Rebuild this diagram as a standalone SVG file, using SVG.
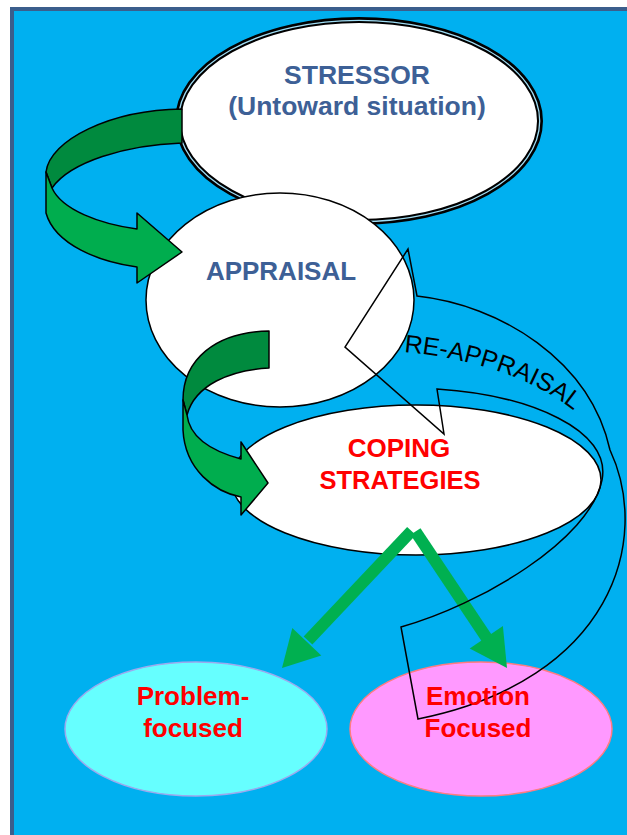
<svg xmlns="http://www.w3.org/2000/svg" width="627" height="835" viewBox="0 0 627 835">
  <style>
    .lbl { font-family: "Liberation Sans", Arial, sans-serif; font-weight: bold; text-anchor: middle; }
    .navy { fill: #3D6096; }
    .red { fill: #FF0000; }
    .node { fill: #FFFFFF; stroke: #000000; stroke-width: 1.5; }
    .dark { fill: #008A3E; stroke: #000000; stroke-width: 1.5; stroke-linejoin: round; }
    .light { fill: #00AD4E; stroke: #000000; stroke-width: 1.5; stroke-linejoin: round; }
    .shaft { stroke: #00B050; stroke-width: 12; stroke-linecap: butt; fill: none; }
    .head { fill: #00B050; }
  </style>
  <defs>
    <path id="reappraisal-baseline" d="M404,352 C455,356 545,375 592,428"/>
  </defs>

  <!-- frame and background -->
  <rect x="0" y="0" width="627" height="835" fill="#FFFFFF"/>
  <rect x="12" y="9" width="617" height="830" fill="#00B0F0" stroke="#3B5E8C" stroke-width="4"/>

  <g id="stressor">
    <ellipse cx="359" cy="121" rx="181" ry="101" fill="#FFFFFF" stroke="#000000" stroke-width="6"/>
    <ellipse cx="359" cy="121" rx="180.7" ry="100.7" fill="none" stroke="#9FDDF5" stroke-width="1.3"/>
  </g>

  <g id="appraisal">
    <ellipse class="node" cx="280" cy="300" rx="134" ry="107"/>
  </g>

  <g id="coping">
    <ellipse class="node" cx="416" cy="480" rx="185" ry="75"/>
  </g>

  <g id="problem-focused">
    <ellipse cx="196" cy="729" rx="131" ry="67" fill="#66FFFF" stroke="#9DA9EE" stroke-width="1.5"/>
  </g>

  <g id="emotion-focused">
    <ellipse cx="481" cy="729" rx="131" ry="67" fill="#FF99FF" stroke="#FF7C80" stroke-width="1.5"/>
  </g>

  <g id="connectors">
    <!-- stressor to appraisal: folded ribbon arrow -->
    <path class="dark" d="M182,109 C110,110 50,140 46,172 L52,188 C70,162 125,145 182,143 Z"/>
    <path class="light" d="M46,172 L46,213 C55,245 100,262 137,267 L137,283 L182,252 L137,213 L137,229 C100,224 62,210 52,188 Z"/>

    <!-- appraisal to coping: folded ribbon arrow -->
    <path class="dark" d="M269,331 C215,332 183,360 183,400 L187,415 C195,385 230,370 269,368 Z"/>
    <path class="light" d="M183,400 L183,430 C185,470 215,492 241,497 L241,515 L268,483 L241,442 L241,459 C215,452 190,440 187,415 Z"/>

    <!-- coping to the two strategy types -->
    <line class="shaft" x1="411.5" y1="531" x2="308" y2="640.5"/>
    <polygon class="head" points="282,668 292.3,628 321.3,655.6"/>
    <line class="shaft" x1="415.5" y1="531.5" x2="487" y2="638.5"/>
    <polygon class="head" points="507,668 469.7,648.5 502.9,626.1"/>

    <!-- re-appraisal loop back from coping to appraisal -->
    <path d="M408,249 L417,296 C500,305 590,360 610,450 C652,540 612,680 418,719 L401,627 C480,605 590,540 602,480 C612,430 530,395 437,389 L444,434 L345,347 Z" fill="none" stroke="#000000" stroke-width="1.5" stroke-linejoin="miter"/>
  </g>

  <!-- labels -->
  <g id="labels">
    <text class="lbl navy" x="357" y="84" font-size="26.5">STRESSOR</text>
    <text class="lbl navy" x="357" y="115" font-size="26.5">(Untoward situation)</text>
    <text class="lbl navy" x="281" y="280" font-size="26">APPRAISAL</text>
    <text class="lbl red" x="399" y="457" font-size="26">COPING</text>
    <text class="lbl red" x="400" y="489" font-size="25.5">STRATEGIES</text>
    <text class="lbl red" x="193" y="705" font-size="26">Problem-</text>
    <text class="lbl red" x="193" y="737" font-size="26">focused</text>
    <text class="lbl red" x="478" y="705" font-size="26">Emotion</text>
    <text class="lbl red" x="478" y="737" font-size="26">Focused</text>
    <text font-family="&quot;Liberation Sans&quot;, Arial, sans-serif" font-size="25" fill="#000000">
      <textPath href="#reappraisal-baseline">RE-APPRAISAL</textPath>
    </text>
  </g>
</svg>
